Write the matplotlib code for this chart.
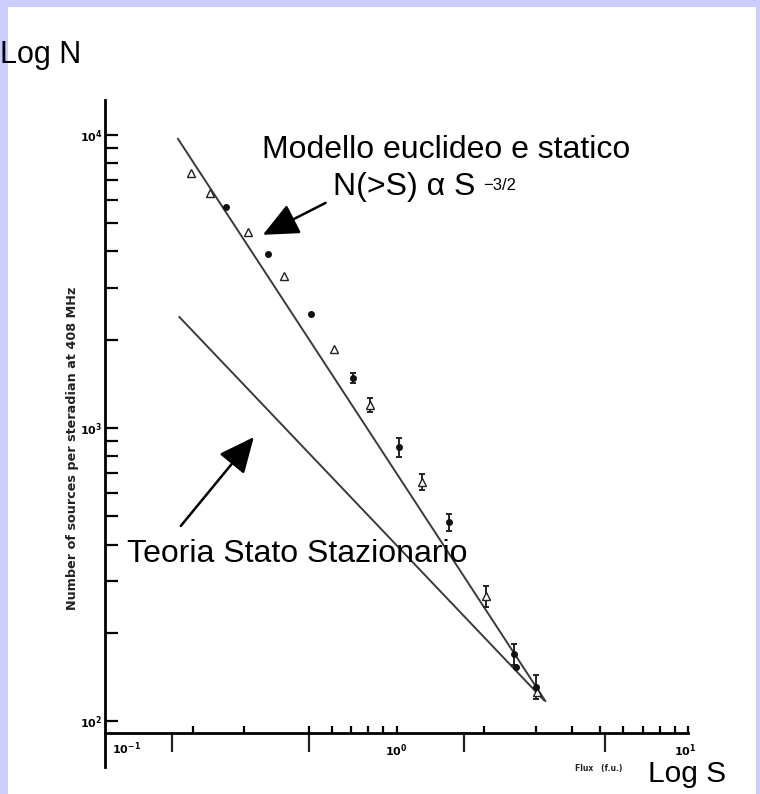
import matplotlib.pyplot as plt
import numpy as np
from matplotlib.patches import Rectangle

plt.rcParams['font.family'] = ['Liberation Sans', 'DejaVu Sans']

# data (flux in f.u., counts per steradian)
tri_S = np.array([0.197, 0.229, 0.309, 0.410, 0.608, 0.809, 1.22, 2.03, 3.04])
tri_N = np.array([7410, 6340, 4670, 3300, 1860, 1197, 654, 267, 126])
tri_err = np.array([0, 0, 0, 0, 0, 65, 40, 22, 0])

dot_S = np.array([0.260, 0.361, 0.507, 0.707, 1.02, 1.51, 2.52, 2.56, 3.01])
dot_N = np.array([5680, 3930, 2450, 1480, 861, 477, 169, 153, 131])
dot_err = np.array([0, 0, 0, 60, 65, 32, 14, 0, 12.5])

# model lines (end points)
euclid_S = [0.178, 3.24]
euclid_N = [9690, 117]
steady_S = [0.180, 3.20]
steady_N = [2390, 118]

minor_xt = [0.2, 0.3, 0.5, 0.6, 0.7, 0.8, 0.9, 2, 3, 4, 5, 6, 7, 8, 9]
long_xt = [0.17, 0.5, 1.7, 5.2]

W, H = 760, 794
fig = plt.figure(figsize=(W/100, H/100), dpi=100)
fig.patch.set_facecolor('#ccccff')
fig.add_artist(Rectangle((8/W, 0), (756-8)/W, (H-7)/H, transform=fig.transFigure,
                         facecolor='white', edgecolor='none', zorder=0))

ax = fig.add_axes([105/W, (H-767)/H, (688-105)/W, (767-100)/H])
ax.set_facecolor('none')
ax.set_xscale('log')
ax.set_yscale('log')
ax.set_xlim(0.1, 10)
ax.set_ylim(10**1.843, 10**4.119)

lc = '#3a3a3a'
ax.plot(euclid_S, euclid_N, c=lc, lw=1.4)
ax.plot(steady_S, steady_N, c=lc, lw=1.4)

# error bars
m = tri_err > 0
ax.errorbar(tri_S[m], tri_N[m], yerr=tri_err[m], fmt='none', ecolor='#222', elinewidth=1.4, capsize=2.5, capthick=1.4)
m = dot_err > 0
ax.errorbar(dot_S[m], dot_N[m], yerr=dot_err[m], fmt='none', ecolor='#222', elinewidth=1.4, capsize=2.5, capthick=1.4)

ax.plot(tri_S, tri_N, ls='none', marker='^', ms=5.5, mfc='white', mec='#222', mew=1.0)
ax.plot(dot_S, dot_N, ls='none', marker='o', ms=4, mfc='#111', mec='#111')

# axes look of the scan
for s in ['top', 'right']:
    ax.spines[s].set_visible(False)
ax.spines['left'].set_linewidth(2)
ax.spines['bottom'].set_linewidth(2)
ax.spines['bottom'].set_position(('data', 10**1.959))

ax.set_yticks([100, 1000, 10000])
ax.set_yticklabels([r'$\mathbf{10^2}$', r'$\mathbf{10^3}$', r'$\mathbf{10^4}$'], fontsize=8)
ax.yaxis.set_minor_locator(plt.FixedLocator([k*10**e for e in (2, 3) for k in range(2, 10)]))
ax.yaxis.set_minor_formatter(plt.NullFormatter())
ax.tick_params(axis='y', which='both', direction='in', length=9.5, width=1.6, pad=2)

ax.set_xticks([1, 10])
ax.set_xticklabels([])
ax.set_xticks(minor_xt, minor=True)
ax.xaxis.set_minor_formatter(plt.NullFormatter())
ax.tick_params(axis='x', which='both', direction='in', length=5, width=1.6)
ax.vlines(long_xt, 0.0225, 0.051, transform=ax.get_xaxis_transform(), color='#222', lw=1.6)

xtr = ax.get_xaxis_transform()
ax.text(0.106, 0.027, r'$\mathbf{10^{-1}}$', transform=xtr, fontsize=8, ha='left', va='center')
ax.text(1.0, 0.024, r'$\mathbf{10^{0}}$', transform=xtr, fontsize=8, ha='center', va='center')
ax.text(9.8, 0.024, r'$\mathbf{10^{1}}$', transform=xtr, fontsize=8, ha='center', va='center')

def fx(x):
    return x / W

def fy(y):
    return 1 - y / H

fig.text(fx(73), fy(448), 'Number of sources per steradian at 408 MHz', rotation=90,
         fontsize=9.2, fontweight='bold', ha='center', va='center', color='#222', family='DejaVu Sans')
fig.text(fx(575), fy(768), 'Flux   (f.u.)', fontsize=5.5, fontweight='bold', ha='left', va='center',
         color='#222', family='DejaVu Sans')

fig.text(fx(0), fy(63), 'Log N', fontsize=22, ha='left', va='baseline')
fig.text(fx(648), fy(782), 'Log S', fontsize=21.5, ha='left', va='baseline')
fig.text(fx(262), fy(158), 'Modello euclideo e statico', fontsize=23, ha='left', va='baseline')
fig.text(fx(333), fy(195), 'N(>S) α S', fontsize=23, ha='left', va='baseline')
fig.text(fx(483), fy(190), '\u22123/2', fontsize=12, ha='left', va='baseline')
fig.text(fx(127), fy(562), 'Teoria Stato Stazionario', fontsize=23, ha='left', va='baseline')

arrow = dict(arrowstyle='-|>,head_length=1.1,head_width=0.5', color='black', lw=1.8,
             mutation_scale=20, shrinkA=0, shrinkB=0)
ax.annotate('', xy=(0.348, 4560), xytext=(0.571, 5860), arrowprops=arrow)
ax.annotate('', xy=(0.324, 931), xytext=(0.182, 463), arrowprops=arrow)

plt.savefig('out.png', dpi=100)
